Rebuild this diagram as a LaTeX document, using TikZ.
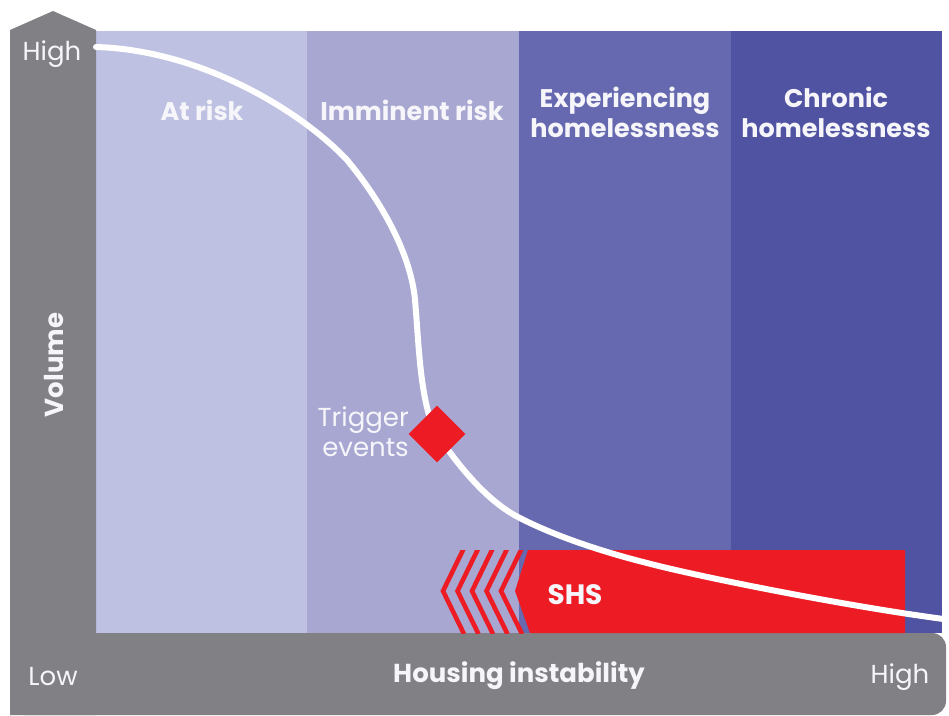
\documentclass[tikz,border=0pt]{standalone}
\usepackage{fontspec}
\setmainfont{Poppins}
\definecolor{axisgray}{RGB}{129,129,133}
\definecolor{zoneA}{RGB}{191,193,226}
\definecolor{zoneB}{RGB}{168,167,210}
\definecolor{zoneC}{RGB}{102,105,175}
\definecolor{zoneD}{RGB}{80,82,162}
\definecolor{shsred}{RGB}{237,28,36}
\definecolor{txtw}{RGB}{246,246,250}
\tikzset{
  zonelbl/.style={text=txtw, font=\bfseries\fontsize{25.5}{30}\selectfont, align=center, inner sep=0pt},
  axislbl/.style={text=txtw, font=\fontsize{26}{30}\selectfont, inner sep=0pt},
  axisbold/.style={text=txtw, font=\bfseries\fontsize{26}{30}\selectfont, inner sep=0pt},
  stripe/.style={draw=shsred, line width=4.6pt, line join=miter},
}
\begin{document}
\begin{tikzpicture}[x=1pt,y=-1pt]
\useasboundingbox[fill=white] (0,0) rectangle (949,715);
% zones
\fill[zoneA] (96,31) rectangle (307,633);
\fill[zoneB] (307,31) rectangle (519,633);
\fill[zoneC] (519,31) rectangle (731,633);
\fill[zoneD] (731,31) rectangle (942,633);
% axes
\fill[axisgray] (10,715) -- (10,30) -- (53,11) -- (96,30) -- (96,715) -- cycle;
\fill[axisgray, rounded corners=14pt] (10,633) -- (946,633) -- (946,715) -- (10,715) -- cycle;
\fill[axisgray] (10,633) rectangle (30,715);
% SHS stripes
\begin{scope}
\clip (430,550) rectangle (540,633);
\foreach \i in {0,...,4}{
  \draw[stripe] ({443+\i*14.5+21},548) -- ({443+\i*14.5},591) -- ({443+\i*14.5+21},634);
}
\end{scope}
% SHS bar
\fill[shsred] (528,550) -- (905,550) -- (905,633) -- (530,633) -- (515,591) -- cycle;
\node[axisbold, font=\bfseries\fontsize{28}{30}\selectfont] (shs) at (575,595) {SHS};
% curve
\coordinate (c0) at (96,47);
\coordinate (c1) at (347,160);
\coordinate (c2) at (415,300);
\coordinate (c3) at (437,434);
\coordinate (c4) at (518,517);
\coordinate (c5) at (647,563);
\coordinate (c6) at (951,620);
\draw[white, line width=6pt, line cap=round]
 (c0) .. controls (200,50) and (300,110) .. (c1)
      .. controls (382,202) and (411,255) .. (c2)
      .. controls (419,345) and (420,405) .. (c3)
      .. controls (455,461) and (485,500) .. (c4)
      .. controls (560,539) and (615,555) .. (c5)
      .. controls (700,577) and (850,607) .. (c6);
% trigger
\node[fill=shsred, minimum size=40pt, rotate=45, inner sep=0pt] (trig) at (c3) {};
\node[axislbl, anchor=east, align=right] (trigtxt) at (409,432) {Trigger\\events};
% labels
\node[axislbl] (hightop) at (52,54) {High};
\node[axislbl] (low) at (53,677) {Low};
\node[axislbl] (highright) at (900,677) {High};
\node[axisbold] (xlab) at (519,676) {Housing instability};
\node[axisbold, rotate=90] (ylab) at (54,365) {Volume};
\node[zonelbl] (za) at (202,110) {At risk};
\node[zonelbl] (zb) at (412,110) {Imminent risk};
\node[zonelbl] (zc) at (625,112) {Experiencing\\homelessness};
\node[zonelbl] (zd) at (836,112) {Chronic\\homelessness};
\end{tikzpicture}
\end{document}
